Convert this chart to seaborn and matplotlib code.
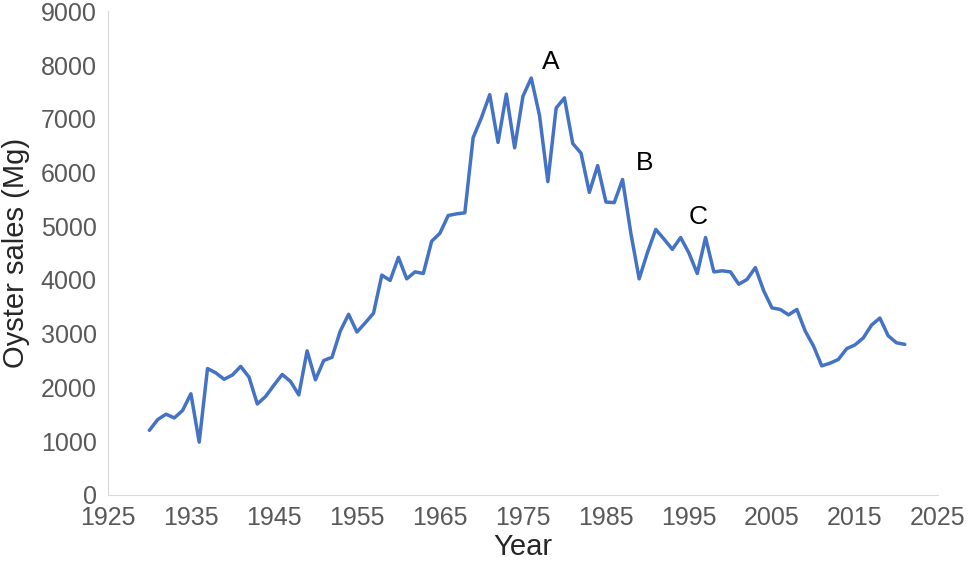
import matplotlib
matplotlib.use("Agg")
import matplotlib.pyplot as plt
import seaborn as sns
import pandas as pd

years = list(range(1930, 2022))
sales = [1200,1400,1500,1430,1570,1880,980,2350,2270,2150,2230,2390,2190,1690,1830,2040,2240,2110,1860,2680,
         2140,2500,2560,3050,3360,3030,3200,3380,4090,3990,4420,4020,4150,4120,4720,4870,5200,5230,5250,6650,
         7020,7450,6560,7460,6460,7420,7760,7060,5830,7200,7390,6540,6360,5630,6130,5450,5440,5870,4870,4020,
         4510,4940,4760,4570,4790,4500,4120,4790,4150,4170,4150,3920,4010,4230,3800,3480,3450,3350,3450,3050,
         2770,2400,2450,2520,2720,2790,2920,3160,3290,2960,2830,2800]
labels = ["A", "B", "C"]
label_x = [1978.3, 1989.6, 1996.1]
label_y = [8050, 6180, 5180]

df = pd.DataFrame({"Year": years, "Sales": sales})
sns.set_style("white")
plt.rcParams['font.family'] = ['Liberation Sans', 'DejaVu Sans']
fig, ax = plt.subplots(figsize=(9.72, 5.70), dpi=100)
sns.lineplot(data=df, x="Year", y="Sales", ax=ax, color="#4472C4", linewidth=2.5)
for t, x, y in zip(labels, label_x, label_y):
    ax.text(x, y, t, fontsize=19, ha="center", va="center", color="black")
ax.set_xlim(1925, 2025)
ax.set_ylim(0, 9000)
ax.set_xticks(range(1925, 2026, 10))
ax.set_yticks(range(0, 9001, 1000))
ax.tick_params(labelsize=18, colors="#595959", length=0, pad=8)
ax.set_xlabel("Year", fontsize=21, labelpad=2)
ax.set_ylabel("Oyster sales (Mg)", fontsize=21, labelpad=8)
for s in ["top", "right"]:
    ax.spines[s].set_visible(False)
for s in ["left", "bottom"]:
    ax.spines[s].set_color("#D9D9D9")
fig.subplots_adjust(left=0.111, right=0.965, top=0.98, bottom=0.132)
fig.savefig("out.png", dpi=100)
